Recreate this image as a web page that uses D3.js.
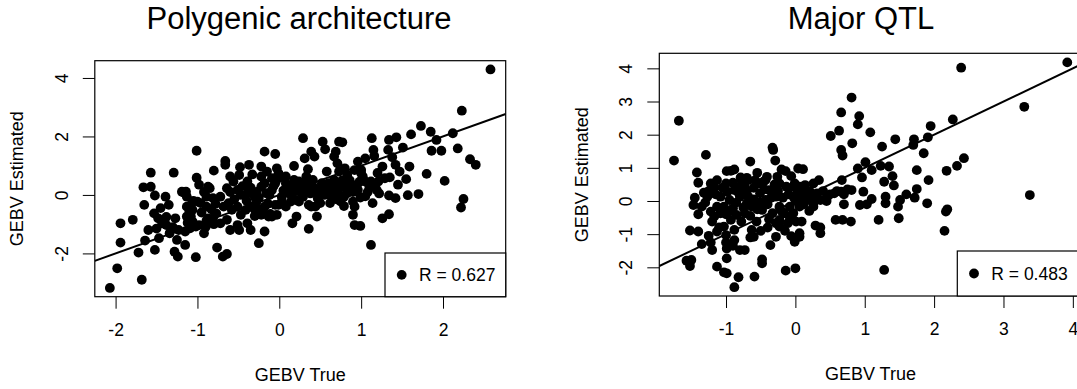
<!DOCTYPE html>
<html>
<head>
<meta charset="utf-8">
<script src="https://cdn.jsdelivr.net/npm/d3@7"></script>
<style>
  body { margin: 0; background: #fff; }
  svg { display: block; font-family: "Liberation Sans", Arial, Helvetica, sans-serif; }
</style>
</head>
<body>
<svg id="chart" width="1077" height="389"></svg>
<script>
// GEBV (true, estimated) pairs, polygenic scenario
const polygenicPoints = [
  [2.58,4.29],[2.23,2.88],[2.12,2.11],[2.18,1.59],[2.33,1.22],[2.40,1.03],[2.02,0.48],[2.25,-0.14],[2.22,-0.43],
  [1.85,2.16],[1.92,1.88],[1.86,1.51],[1.98,1.51],[1.80,0.72],[1.73,2.36],[1.61,2.07],[1.70,0.03],[1.57,-0.01],
  [1.59,0.97],[1.55,0.54],[1.51,1.62],[1.43,1.97],[1.34,1.88],[1.33,1.54],[1.38,1.29],[1.42,1.03],[1.47,0.80],
  [1.42,-0.11],[1.34,-0.02],[1.34,-0.66],[1.26,-0.80],[1.26,0.97],[1.29,0.57],[1.13,1.94],[1.15,1.54],[1.16,1.33],
  [1.05,1.25],[0.96,1.14],[1.12,0.46],[1.10,0.28],[1.14,-0.28],[1.12,-1.71],[0.92,-1.03],[0.99,-1.06],[0.90,-0.68],
  [0.99,-0.09],[0.80,0.91],[0.73,1.82],[0.77,1.80],[0.69,1.48],[0.67,1.31],[0.71,1.08],[0.73,0.80],[0.53,1.82],
  [0.56,1.56],[0.39,1.48],[0.43,1.31],[0.31,1.25],[0.29,1.94],[0.18,0.99],[0.35,0.88],[-0.05,1.40],[-0.18,1.48],
  [-0.03,0.91],[-0.22,0.97],[-0.37,1.03],[-0.48,0.95],[-0.49,0.68],[-0.66,1.16],[-0.66,1.03],[-0.60,0.63],[-0.80,0.83],
  [-1.01,1.51],[-1.01,0.59],[-1.29,0.76],[-1.57,0.76],[-1.66,0.26],[-1.57,0.28],[-1.52,-0.02],[-1.65,-0.34],[-1.53,-0.63],
  [-1.39,-0.06],[-1.35,-0.34],[-1.79,-0.85],[-1.94,-0.97],[-1.94,-1.63],[-1.72,-1.97],[-1.64,-1.56],[-1.60,-1.20],
  [-1.52,-1.88],[-1.47,-1.48],[-1.48,-0.80],[-1.43,-0.97],[-1.27,-0.80],[-1.28,-1.94],[-1.24,-2.11],[-1.25,-1.54],
  [-1.15,-1.71],[-1.02,-2.13],[-1.68,-2.90],[-1.98,-2.51],[-2.07,-3.18],[-1.34,-1.31],[-1.14,0.11],[-0.92,-1.31],
  [-0.76,-1.80],[-0.69,-2.11],[-0.64,-2.02],[-0.25,-1.65],[-0.18,-1.25],[-0.35,-1.20],[-0.49,-1.20],[-0.60,-1.20],
  [-0.72,-0.97],[-0.87,-0.80],[-0.96,-0.28],[-0.81,-0.11],[-0.87,0.28],[-1.08,-0.74],[-1.02,-1.08],[-1.09,-1.14],
  [0.08,-0.40],[0.16,-0.97],[0.21,-0.74],[0.36,-1.16],[0.46,-0.74],[0.44,-0.40],[0.36,-0.34],[0.79,-0.38],[-0.01,-0.34],
  [-0.13,-0.74],[-0.47,-0.68],
  [-1.17,0.08],[-1.13,-0.06],[-0.89,-0.06],[-0.85,0.23],[-0.72,-0.06],[-0.64,0.23],[-0.56,0.46],[-0.51,0.17],[-0.47,0.00],
  [-0.39,0.06],[-0.30,-0.06],[-0.22,0.28],[-0.18,0.40],[-0.16,0.06],[-0.09,0.17],[-0.05,0.40],[-0.01,0.57],[0.03,-0.06],
  [0.08,0.40],[0.12,0.28],[0.16,0.06],[0.20,-0.17],[0.24,0.28],[0.29,-0.06],[0.33,0.17],[0.37,0.40],[0.41,0.28],
  [0.46,0.06],[0.50,0.23],[0.56,0.17],[0.60,0.40],[0.62,0.00],[0.69,0.06],[0.73,0.40],[0.79,0.28],[0.83,0.06],
  [0.88,0.28],[0.96,0.17],[1.02,0.63],[1.05,0.46],
  [-1.08,-0.34],[-1.06,-0.51],[-1.00,-0.23],[-0.89,-0.40],[-0.83,-0.49],[-0.77,-0.63],[-0.68,-0.40],[-0.62,-0.28],
  [-0.58,-0.51],[-0.51,-0.40],[-0.41,-0.51],[-0.35,-0.40],[-0.28,-0.23],[-0.24,-0.49],[-0.18,-0.40],[-0.11,-0.65],
  [-0.05,-0.34],[0.03,-0.23],[0.14,-0.23],[0.24,-0.23],[0.39,-0.40],[0.50,-0.28],[0.62,-0.28],[0.75,-0.23],[0.90,-0.23],
  [-1.13,-0.74],[-1.06,-0.91],[-0.98,-1.03],[-0.89,-0.88],[-0.81,-0.80],[-0.64,-0.85],[-0.51,-1.03],[-0.39,-0.97],
  [-0.30,-0.72],[-0.22,-0.68],[-0.09,-0.74],[-0.03,-0.68],
  [-0.39,0.46],[-0.22,0.63],[-0.09,0.57],[0.08,0.63],[0.18,0.51],[0.24,0.46],[0.33,0.63],[0.41,0.51],[0.58,0.80],
  [0.67,0.51],[0.83,0.68],[0.92,0.85],[1.00,0.85],[1.21,0.46],[1.17,0.28],
  [1.00,0.74],[1.19,0.17],[0.92,-0.40],[-0.01,0.74],[0.79,-0.06],[-1.13,-0.40],[-1.38,-1.03],[-1.23,-1.20],[-1.19,0.11],
  [0.05,0.15],[0.12,0.05],[0.18,0.25],[0.26,0.10],[0.30,0.35],[0.38,0.05],[0.44,0.20],[0.52,0.40],[0.55,0.00],
  [0.63,0.20],[0.66,0.30],[0.72,0.15],[0.77,0.50],[0.85,0.20],[0.90,0.10],[0.95,0.35],[0.98,0.45],[0.86,0.50],
  [0.70,-0.15],[0.47,-0.12],
  [-0.45,0.30],[-0.35,0.25],[-0.28,0.10],[-0.25,-0.10],[-0.12,0.00],[-0.07,0.30],[-0.40,-0.20],[-0.30,-0.50],
  [-0.20,-0.55],[-0.14,-0.30],[-0.55,-0.15],[-0.60,0.10],[-0.33,0.70],[-0.15,0.80],
  [-1.10,-0.55],[-1.05,-0.20],[-1.12,-0.95],[-0.95,-0.60],[-0.92,0.10],[-0.98,0.35],[-1.15,-1.25],[-0.90,-1.10],
  [-0.80,-1.00],[-0.78,-0.30],
  [-1.45,-0.45],[-1.50,-1.15],[-1.38,-0.75],[-1.30,-1.10],
  [1.20,0.75],[1.35,0.60],[1.22,0.05],[1.45,0.35],[1.05,-0.05],[1.08,0.10]
];

// GEBV (true, estimated) pairs, major QTL scenario
const majorQtlPoints = [
  [3.92,4.18],[2.39,4.02],[3.30,2.84],[3.38,0.18],[-1.68,2.42],[-1.75,1.22],[-1.29,1.39],[0.81,3.12],[0.66,2.67],
  [0.92,2.56],[0.90,2.31],[0.63,2.12],[0.51,1.96],[1.08,2.07],[0.66,1.54],[0.68,1.37],[0.82,1.74],[1.25,1.64],
  [1.44,1.86],[1.71,1.86],[1.70,1.69],[1.95,2.26],[1.91,1.92],[2.27,2.46],[1.85,1.44],[2.43,1.29],[2.33,1.06],
  [2.18,0.91],[1.75,0.93],[1.92,0.63],[1.75,0.36],[1.72,0.10],[1.60,0.20],[1.90,-0.07],[2.19,-0.25],[2.15,-0.90],
  [1.49,-0.52],[1.48,-0.17],[1.35,1.04],[1.40,0.75],[1.42,0.47],[1.28,0.58],[1.30,-0.07],[1.20,-0.57],[1.28,-2.08],
  [1.23,1.06],[1.10,0.93],[1.01,1.17],[0.90,0.98],[0.96,0.71],[0.98,0.28],[1.10,0.06],[0.93,-0.12],[1.03,-0.10],
  [0.67,0.63],[0.70,-0.10],[0.58,-0.57],[0.68,-0.57],[0.80,-0.62],[0.81,0.33],[0.66,0.28],[0.29,-0.74],[0.36,-0.97],
  [0.00,-2.03],[-0.14,-2.10],[0.06,-0.97],[-0.01,-1.23],[0.01,-0.62],[0.04,0.98],[0.11,0.96],[-0.06,0.75],[-0.14,0.90],
  [-0.33,1.61],[-0.32,1.54],[-0.29,1.22],[-0.65,1.19],[-0.93,0.91],[-0.99,0.90],[-0.79,0.71],[-1.42,0.86],[-1.40,0.55],
  [-1.32,0.25],[-1.47,-0.12],[-1.52,-0.89],[-1.40,-0.92],[-1.22,-1.25],[-1.20,-1.48],[-1.13,-1.98],[-1.03,-2.15],
  [-0.99,-2.18],[-0.88,-2.60],[-0.82,-2.30],[-0.59,-2.28],[-0.99,-1.73],[-0.99,-1.43],[-0.80,-1.48],[-0.48,-1.76],
  [-0.48,-1.88],[-0.36,-1.33],[-0.28,-1.08],[-1.57,-1.80],[-1.52,-1.96],[-0.60,-1.08],[-0.56,-0.62],
  [0.06,0.43],[0.14,0.48],[0.26,0.53],[0.34,0.63],[0.31,0.23],[0.16,0.13],[0.56,0.23],[0.46,0.13],[0.36,0.03],
  [0.26,-0.17],[0.26,-0.07],[-0.03,0.43],[-0.06,-1.06],[0.06,-1.08],[0.09,-0.62],[-0.23,-0.77],[-0.88,-1.18],
  [-0.73,-1.48],[-1.50,-1.78],[-1.13,-0.92],[-1.00,-1.03],[-0.88,-0.87],[-0.63,-0.87],[-1.22,-0.32],[-1.20,-0.62],
  [-1.35,-0.17],[1.30,0.13],[1.51,0.03],[2.17,-0.32],[0.36,-0.80],[-0.78,0.63],[-0.88,0.95],
  [-0.98,0.28],[-0.95,0.03],[-0.90,-0.22],[-1.03,-0.17],[-1.13,-0.17],[-1.08,0.13],[-1.17,0.43],[-1.22,0.53],
  [-1.27,0.13],[-1.13,0.63],[-1.00,0.53],[-0.73,0.43],[-0.68,0.13],[-0.63,-0.17],[-0.73,-0.37],[-0.78,-0.62],
  [-0.85,-0.42],[-0.70,-0.07],[-0.80,0.13],[-0.53,0.53],[-0.51,0.23],[-0.43,0.63],[-0.38,0.33],[-0.28,0.13],
  [-0.23,-0.17],[-0.16,-0.37],[-0.08,-0.17],[-0.03,0.13],[-0.13,0.43],[-0.23,0.53],[-0.33,0.33],[-0.43,0.03],
  [-0.48,-0.27],[-0.33,-0.37],[-0.23,-0.57],[-0.11,-0.67],[-0.28,-0.67],[-0.03,-0.37],[0.06,-0.17],[0.09,0.13],
  [0.11,0.33],[0.21,0.28],[0.21,0.03],[-0.01,0.53],[-0.26,0.73],[-0.41,0.73],[-0.46,0.58],[-0.58,0.63],[-0.68,0.63],
  [-0.80,0.43],[-0.88,0.33],[-1.08,-0.37],[-1.17,-0.47],[-0.93,-0.57],[-1.03,-0.77],
  [-1.30,-0.05],[-1.25,0.30],[-1.15,0.20],[-1.05,0.40],[-1.00,-0.40],[-0.95,-0.30],[-0.90,0.55],[-0.85,-0.05],
  [-0.82,0.25],[-0.75,-0.20],[-0.70,0.30],[-0.65,-0.45],[-0.60,0.40],[-0.60,0.05],[-0.55,-0.25],[-0.52,-0.05],
  [-0.45,0.35],[-0.40,-0.10],[-0.38,-0.55],[-0.35,0.10],[-0.30,0.50],[-0.25,0.30],[-0.20,-0.30],[-0.18,0.10],
  [-0.10,0.20],[-0.08,-0.50],[0.00,0.00],[0.03,0.30],[0.12,-0.10],[0.15,0.35],[0.20,-0.30],[0.30,0.10],[0.40,0.30],
  [0.45,0.00],[0.50,0.20],[0.60,0.30],[0.70,0.20],[0.75,0.35],[-1.10,-0.80],[-1.00,-1.25],[-0.90,-1.35],[-0.65,-1.10],
  [-0.50,-0.90],[-0.40,-0.80],[-0.15,-0.90],[-1.35,-1.30],[-1.25,-1.05],[-0.70,0.70],[-0.55,0.85],[-0.20,0.95],
  [-1.45,0.10],[-1.40,-0.40]
];

const panelTitles = ["Polygenic architecture", "Major QTL"];
const correlations = ["0.627", "0.483"];
const xTickValues = [[-2, -1, 0, 1, 2], [-1, 0, 1, 2, 3, 4]];
const yTickValues = [[-2, 0, 2, 4], [-2, -1, 0, 1, 2, 3, 4]];
// reference line: intercept, slope
const fitLines = [[0, 1], [0, 1]];

const svg = d3.select("#chart");
svg.append("rect").attr("width", 1077).attr("height", 389).attr("fill", "#fff");

const panels = [
  { id: "poly", points: polygenicPoints, left: 94.8, right: 505.7, top: 60.7, bottom: 296.7,
    xDomain: [-2.254, 2.766], yDomain: [-3.48, 4.59], titleX: 299, legendLeft: 385, legendTop: 253 },
  { id: "qtl", points: majorQtlPoints, left: 659.3, right: 1081.5, top: 53.3, bottom: 296,
    xDomain: [-1.962, 4.125], yDomain: [-2.865, 4.454], titleX: 861, legendLeft: 957.3, legendTop: 251 }
];

const FONT = 17.5;
const DOT_R = 4.9;

panels.forEach((p, i) => {
  const x = d3.scaleLinear().domain(p.xDomain).range([p.left, p.right]);
  const y = d3.scaleLinear().domain(p.yDomain).range([p.bottom, p.top]);
  const g = svg.append("g");

  g.append("clipPath").attr("id", "clip-" + p.id)
    .append("rect")
    .attr("x", p.left).attr("y", p.top)
    .attr("width", p.right - p.left).attr("height", p.bottom - p.top);

  const plotArea = g.append("g").attr("clip-path", `url(#clip-${p.id})`);

  plotArea.selectAll("circle")
    .data(p.points)
    .join("circle")
    .attr("cx", d => x(d[0]))
    .attr("cy", d => y(d[1]))
    .attr("r", DOT_R)
    .attr("fill", "#000");

  const [a, b] = fitLines[i];
  plotArea.append("line")
    .attr("x1", x(p.xDomain[0])).attr("y1", y(a + b * p.xDomain[0]))
    .attr("x2", x(p.xDomain[1])).attr("y2", y(a + b * p.xDomain[1]))
    .attr("stroke", "#000").attr("stroke-width", 2);

  // axes
  const xAxis = g.append("g")
    .attr("transform", `translate(0,${p.bottom})`)
    .call(d3.axisBottom(x).tickValues(xTickValues[i]).tickSize(12).tickFormat(d => String(d)));
  const yAxis = g.append("g")
    .attr("transform", `translate(${p.left},0)`)
    .call(d3.axisLeft(y).tickValues(yTickValues[i]).tickSize(12).tickFormat(d => String(d)));

  [xAxis, yAxis].forEach(ax => {
    ax.select(".domain").remove();
    ax.attr("font-size", FONT).attr("font-family", null);
    ax.selectAll("line").attr("stroke", "#000");
    ax.selectAll("text").attr("fill", "#000");
  });
  xAxis.selectAll("text").attr("y", 33).attr("dy", "0.35em");
  yAxis.selectAll("text")
    .attr("x", 0).attr("dy", "0.35em")
    .attr("text-anchor", "middle")
    .attr("transform", "translate(-33,0) rotate(-90)");

  // frame
  g.append("rect")
    .attr("x", p.left).attr("y", p.top)
    .attr("width", p.right - p.left).attr("height", p.bottom - p.top)
    .attr("fill", "none").attr("stroke", "#000").attr("stroke-width", 1.2);

  // axis titles
  g.append("text")
    .attr("x", (p.left + p.right) / 2).attr("y", p.bottom + 78)
    .attr("dy", "0.35em").attr("text-anchor", "middle")
    .attr("font-size", 18).text("GEBV True");
  g.append("text")
    .attr("transform", `translate(${p.left - 78},${(p.top + p.bottom) / 2}) rotate(-90)`)
    .attr("dy", "0.35em").attr("text-anchor", "middle")
    .attr("font-size", 18).text("GEBV Estimated");

  // main title
  g.append("text")
    .attr("x", p.titleX).attr("y", 28.5)
    .attr("text-anchor", "middle")
    .attr("font-size", 31).text(panelTitles[i]);

  // legend
  const lg = g.append("g");
  lg.append("rect")
    .attr("x", p.legendLeft).attr("y", p.legendTop)
    .attr("width", p.right - p.legendLeft).attr("height", p.bottom - p.legendTop)
    .attr("fill", "#fff").attr("stroke", "#000").attr("stroke-width", 1.2);
  const cy = (p.legendTop + p.bottom) / 2;
  lg.append("circle").attr("cx", p.legendLeft + 16.7).attr("cy", cy).attr("r", DOT_R).attr("fill", "#000");
  lg.append("text")
    .attr("x", p.legendLeft + 34).attr("y", cy).attr("dy", "0.35em")
    .attr("font-size", FONT).text("R = " + correlations[i]);
});
</script>
</body>
</html>
